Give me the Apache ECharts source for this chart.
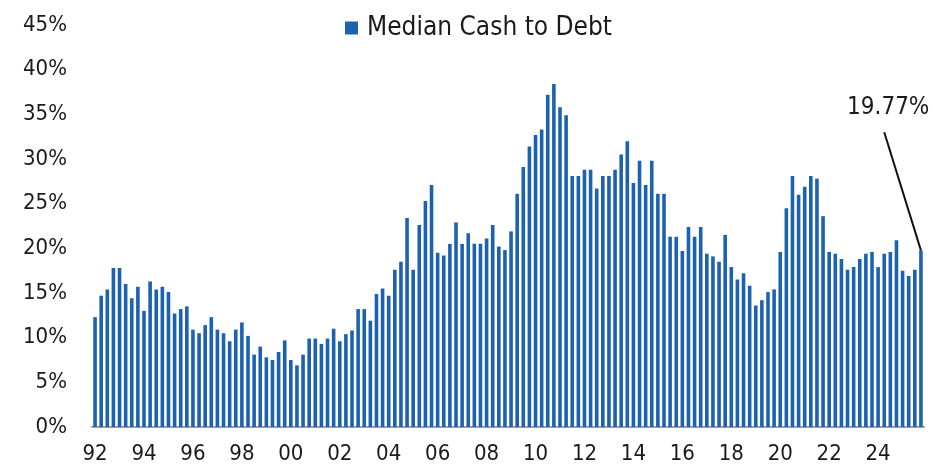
<!DOCTYPE html>
<html>
<head>
<meta charset="utf-8">
<title>Median Cash to Debt</title>
<script src="https://cdn.jsdelivr.net/npm/echarts@6.0.0/dist/echarts.min.js"></script>
<style>
    html, body { margin: 0; padding: 0; background: #fff; }
    #chart { width: 933px; height: 476px; }
</style>
</head>
<body>
<div id="chart"></div>
<script>
// quarterly, 1992Q1 .. 2025Q4
const firstYear = 1992;
const lastYear = 2025;
const quarters = ["Q1", "Q2", "Q3", "Q4"];

const categories = [];
for (let y = firstYear; y <= lastYear; y++) {
    quarters.forEach(q => categories.push(y + q));
}

// median cash to debt, %
const cashToDebt = [
    12.3, 14.7, 15.4, 17.8, 17.8, 16.0, 14.4, 15.7, 13.0, 16.3,
    15.4, 15.7, 15.1, 12.7, 13.2, 13.5, 10.9, 10.5, 11.4, 12.3,
    10.9, 10.5, 9.6, 10.9, 11.7, 10.2, 8.1, 9.0, 7.8, 7.5,
    8.4, 9.7, 7.5, 6.9, 8.1, 9.9, 9.9, 9.3, 9.9, 11.0,
    9.6, 10.4, 10.8, 13.2, 13.2, 11.9, 14.9, 15.5, 14.7, 17.6,
    18.5, 23.4, 17.6, 22.6, 25.3, 27.1, 19.5, 19.2, 20.5, 22.9,
    20.5, 21.7, 20.5, 20.5, 21.1, 22.6, 20.2, 19.8, 21.9, 26.1,
    29.1, 31.4, 32.7, 33.3, 37.2, 38.4, 35.8, 34.9, 28.1, 28.1,
    28.8, 28.8, 26.7, 28.1, 28.1, 28.8, 30.5, 32.0, 27.3, 29.8,
    27.1, 29.8, 26.1, 26.1, 21.3, 21.3, 19.7, 22.4, 21.3, 22.4,
    19.4, 19.1, 18.5, 21.5, 17.9, 16.5, 17.2, 15.8, 13.6, 14.2,
    15.1, 15.4, 19.6, 24.5, 28.1, 26.0, 26.9, 28.1, 27.8, 23.6,
    19.6, 19.4, 18.8, 17.6, 17.9, 18.8, 19.4, 19.6, 17.9, 19.4,
    19.6, 20.9, 17.5, 16.9, 17.6, 19.77
];

// y axis ticks
const yMin = 0;
const yMax = 45;
const yStep = 5;

// callout for the latest value
const calloutAnchor = categories[129];
const calloutValue = 33;
const lastCategory = categories[categories.length - 1];
const lastValue = cashToDebt[cashToDebt.length - 1];

const FONT = "'DejaVu Sans Condensed', 'Roboto', sans-serif";
const BLUE = "#1c62b0";
const INK = "#1a1a1a";

const myChart = echarts.init(document.getElementById("chart"));

const option = {
    animation: false,
    textStyle: { fontFamily: FONT },
    legend: {
        top: 10,
        left: 340,
        icon: "rect",
        itemWidth: 13,
        itemHeight: 13,
        textStyle: { fontSize: 26, color: INK, fontFamily: FONT, padding: [0, 0, 0, 4] },
        data: ["Median Cash to Debt"]
    },
    grid: {
        left: 92,
        right: 9,
        top: 25,
        bottom: 49,
        containLabel: false
    },
    xAxis: {
        type: "category",
        data: categories,
        axisTick: { show: false },
        axisLine: { lineStyle: { color: "#a0a0a0", width: 2 } },
        axisLabel: {
            interval: 0,
            margin: 16,
            fontSize: 22,
            color: INK,
            fontFamily: FONT,
            formatter: (v, i) => (i % 8 === 0 ? v.slice(2, 4) : "")
        }
    },
    yAxis: {
        type: "value",
        min: yMin,
        max: yMax,
        interval: yStep,
        splitLine: { show: false },
        axisLine: { show: false },
        axisTick: { show: false },
        axisLabel: {
            margin: 25,
            fontSize: 22,
            color: INK,
            fontFamily: FONT,
            formatter: "{value}%"
        }
    },
    series: [{
        name: "Median Cash to Debt",
        type: "bar",
        data: cashToDebt,
        barWidth: 3.6,
        itemStyle: { color: BLUE },
        silent: true,
        markLine: {
            silent: true,
            symbol: ["none", "none"],
            label: { show: false },
            lineStyle: { color: "#111", width: 2, type: "solid" },
            data: [[
                { coord: [calloutAnchor, calloutValue] },
                { coord: [lastCategory, lastValue] }
            ]]
        },
        markPoint: {
            silent: true,
            symbol: "rect",
            symbolSize: 0,
            label: {
                show: true,
                position: "top",
                distance: 12,
                offset: [4, 0],
                fontSize: 24,
                color: INK,
                fontFamily: FONT,
                formatter: lastValue.toFixed(2) + "%"
            },
            data: [{ coord: [calloutAnchor, calloutValue] }]
        }
    }]
};

myChart.setOption(option);
</script>
</body>
</html>
